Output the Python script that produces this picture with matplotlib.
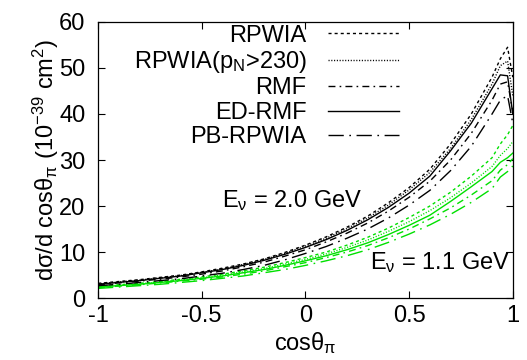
import matplotlib
matplotlib.use("Agg")
import matplotlib.pyplot as plt

plt.rcParams["font.family"] = ["Liberation Sans", "DejaVu Sans"]
plt.rcParams["mathtext.fontset"] = "custom"
plt.rcParams["mathtext.rm"] = "Liberation Sans"
plt.rcParams["mathtext.it"] = "Liberation Sans"

cos_pi = [-1.0, -0.9, -0.8, -0.7, -0.6, -0.5, -0.4, -0.3, -0.2, -0.1, 0.0,
          0.1, 0.2, 0.3, 0.4, 0.5, 0.6, 0.7, 0.8, 0.9, 0.94, 0.975, 1.0]

# E_nu = 2.0 GeV (black)
rpwia_20 = [3.2, 3.6, 4.0, 4.5, 5.0, 5.7, 6.5, 7.4, 8.5, 9.9, 11.5, 13.3, 15.4,
            17.8, 20.7, 24.0, 28.0, 33.5, 40.0, 48.0, 52.0, 54.5, 48.0]
rpwia_cut_20 = [3.1, 3.5, 3.9, 4.4, 4.9, 5.6, 6.3, 7.3, 8.4, 9.7, 11.3, 13.0, 15.1,
                17.4, 20.2, 23.5, 27.3, 32.5, 38.8, 46.5, 50.5, 51.5, 44.0]
rmf_20 = [2.9, 3.3, 3.7, 4.1, 4.6, 5.2, 5.9, 6.8, 7.8, 9.1, 10.5, 12.2, 14.1,
          16.3, 18.9, 21.9, 25.4, 30.0, 35.8, 43.0, 46.5, 47.0, 40.5]
edrmf_20 = [3.0, 3.4, 3.8, 4.3, 4.8, 5.5, 6.2, 7.1, 8.2, 9.5, 11.0, 12.7, 14.7,
            17.0, 19.7, 22.8, 26.5, 32.0, 38.0, 45.5, 48.5, 48.3, 40.0]
pbrpwia_20 = [2.7, 3.0, 3.4, 3.8, 4.2, 4.8, 5.4, 6.2, 7.1, 8.3, 9.7, 11.2, 13.0,
              15.0, 17.4, 20.2, 23.4, 27.7, 33.0, 40.0, 43.0, 44.0, 38.0]

# E_nu = 1.1 GeV (green)
rpwia_11 = [2.6, 2.9, 3.2, 3.6, 4.1, 4.6, 5.2, 5.9, 6.7, 7.7, 8.8, 10.0, 11.5,
            13.2, 15.2, 17.5, 20.0, 23.0, 26.5, 30.5, 33.5, 35.5, 37.5]
rpwia_cut_11 = [2.5, 2.8, 3.1, 3.5, 3.9, 4.4, 5.0, 5.7, 6.4, 7.4, 8.4, 9.6, 11.0,
                12.6, 14.5, 16.6, 19.0, 21.8, 25.0, 28.6, 31.0, 32.5, 34.0]
rmf_11 = [2.3, 2.6, 2.9, 3.3, 3.7, 4.1, 4.6, 5.2, 5.9, 6.8, 7.7, 8.8, 10.0,
          11.4, 13.1, 15.0, 17.2, 19.6, 22.4, 25.5, 27.8, 29.0, 30.3]
edrmf_11 = [2.4, 2.7, 3.0, 3.4, 3.8, 4.3, 4.8, 5.5, 6.2, 7.1, 8.1, 9.2, 10.5,
            12.0, 13.8, 15.8, 18.0, 21.0, 24.2, 27.5, 29.5, 30.5, 31.5]
pbrpwia_11 = [2.1, 2.4, 2.7, 3.0, 3.4, 3.8, 4.3, 4.8, 5.5, 6.2, 7.1, 8.1, 9.2,
              10.5, 12.1, 13.9, 15.9, 18.2, 20.8, 23.8, 26.3, 27.5, 28.7]

labels = ["RPWIA", r"RPWIA(p$_\mathrm{N}$>230)", "RMF", "ED-RMF", "PB-RPWIA"]
styles = [(0, (2.2, 2.2)), (0, (0.8, 1.2)), (0, (5, 3, 1.2, 3)), "-",
          (0, (11, 4, 1.2, 4))]

FS = 17

fig = plt.figure(figsize=(5.27, 3.6), dpi=100)
ax = fig.add_axes([0.186, 0.172, 0.787, 0.767])

black = [rpwia_20, rpwia_cut_20, rmf_20, edrmf_20, pbrpwia_20]
green = [rpwia_11, rpwia_cut_11, rmf_11, edrmf_11, pbrpwia_11]
for lab, ls, yb, yg in zip(labels, styles, black, green):
    ax.plot(cos_pi, yb, color="black", linestyle=ls, linewidth=1.0, label=lab)
    ax.plot(cos_pi, yg, color="#00e000", linestyle=ls, linewidth=1.0)

ax.set_xlim(-1, 1)
ax.set_ylim(0, 60)
ax.set_xticks([-1, -0.5, 0, 0.5, 1])
ax.set_xticklabels(["-1", "-0.5", "0", "0.5", "1"])
ax.set_yticks(range(0, 61, 10))
ax.tick_params(direction="in", length=5, width=0.8, top=True, right=True,
               labelsize=FS)
ax.tick_params(axis="y", pad=9)
ax.tick_params(axis="x", pad=5)
for s in ax.spines.values():
    s.set_linewidth(0.9)

ax.set_xlabel(r"cos$\theta_\pi$", fontsize=FS, labelpad=2.5)
ax.set_ylabel(r"d$\sigma$/d cos$\theta_\pi$ (10$^{-39}$ cm$^2$)", fontsize=FS,
              labelpad=-1)

ax.text(0.3, 0.355, r"E$_\nu$ = 2.0 GeV", transform=ax.transAxes, fontsize=FS,
        ha="left", va="center")
ax.text(0.995, 0.127, r"E$_\nu$ = 1.1 GeV", transform=ax.transAxes, fontsize=FS,
        ha="right", va="center")

ax.legend(loc="upper right", bbox_to_anchor=(0.725, 0.99), frameon=False,
          markerfirst=False, fontsize=FS, handlelength=3.0, handletextpad=0.9,
          labelspacing=0.1, borderpad=0, borderaxespad=0)

fig.savefig("out.png", dpi=100)
